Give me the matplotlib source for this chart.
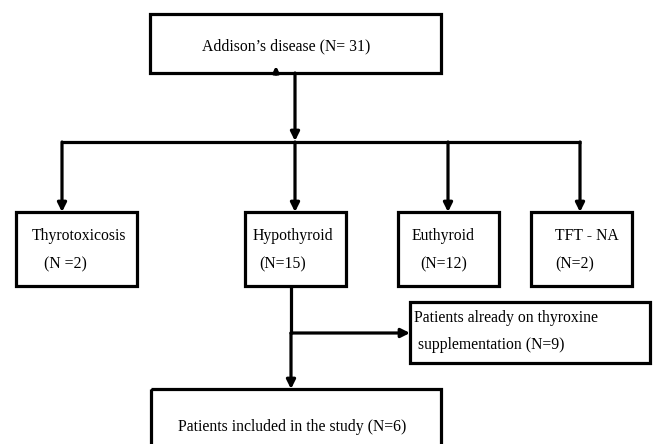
import matplotlib.pyplot as plt
from matplotlib.patches import Rectangle

plt.rcParams['font.family'] = ['Liberation Serif', 'DejaVu Serif']

# node texts
top_label = "Addison\u2019s disease (N= 31)"
group_names = ["Thyrotoxicosis", "Hypothyroid", "Euthyroid", "TFT - NA"]
group_counts = ["(N =2)", "(N=15)", "(N=12)", "(N=2)"]
side_lines = ["Patients already on thyroxine", " supplementation (N=9)"]
bottom_label = "Patients included in the study (N=6)"

# layout in pixels (x0, y0, x1, y1), y grows downward
top_box = (150, 14, 441, 73)
group_boxes = [(16, 212, 137, 286), (245, 212, 346, 286),
               (398, 212, 499, 286), (531, 212, 632, 286)]
group_arrow_x = [62, 295, 448, 580]
group_text_x = [32, 253, 412, 555]
count_text_x = [44, 259, 420, 555]
side_box = (410, 302, 650, 363)
bottom_box = (151, 389, 441, 450)

LW = 2.3
FS = 11.3

fig = plt.figure(figsize=(6.54, 4.44), dpi=100)
ax = fig.add_axes([0, 0, 1, 1])
ax.set_xlim(0, 654)
ax.set_ylim(444, 0)
ax.axis('off')


def box(b):
    x0, y0, x1, y1 = b
    ax.add_patch(Rectangle((x0, y0), x1 - x0, y1 - y0, fill=False,
                           edgecolor='black', lw=LW, joinstyle='miter'))


def arrow(x0, y0, x1, y1, scale=13):
    ax.annotate('', xy=(x1, y1), xytext=(x0, y0),
                arrowprops=dict(arrowstyle='-|>', color='black', lw=LW,
                                mutation_scale=scale, shrinkA=0, shrinkB=0))


# top node
box(top_box)
ax.text(202, 46, top_label, fontsize=FS, va='center', ha='left')
arrow(276, 74, 276, 66, scale=8)  # stray arrowhead in original

# trunk and bus line
arrow(295, 73, 295, 141)
ax.plot([group_arrow_x[0], group_arrow_x[-1] + 1], [142, 142], color='black',
        lw=LW, solid_capstyle='butt')
for x in group_arrow_x:
    arrow(x, 142, x, 212)

for b, name, cnt, tx, cx in zip(group_boxes, group_names, group_counts,
                                group_text_x, count_text_x):
    box(b)
    ax.text(tx, 236, name, fontsize=FS, va='center', ha='left')
    ax.text(cx, 264, cnt, fontsize=FS, va='center', ha='left')

# hypothyroid branch
ax.plot([291, 291], [286, 334], color='black', lw=LW, solid_capstyle='butt')
arrow(291, 333, 410, 333)
arrow(291, 333, 291, 389)

box(side_box)
ax.text(414, 318, side_lines[0], fontsize=FS, va='center', ha='left')
ax.text(414, 345, side_lines[1], fontsize=FS, va='center', ha='left')

box(bottom_box)
ax.text(178, 427, bottom_label, fontsize=FS, va='center', ha='left')

fig.savefig('out.png', dpi=100, facecolor='white')
